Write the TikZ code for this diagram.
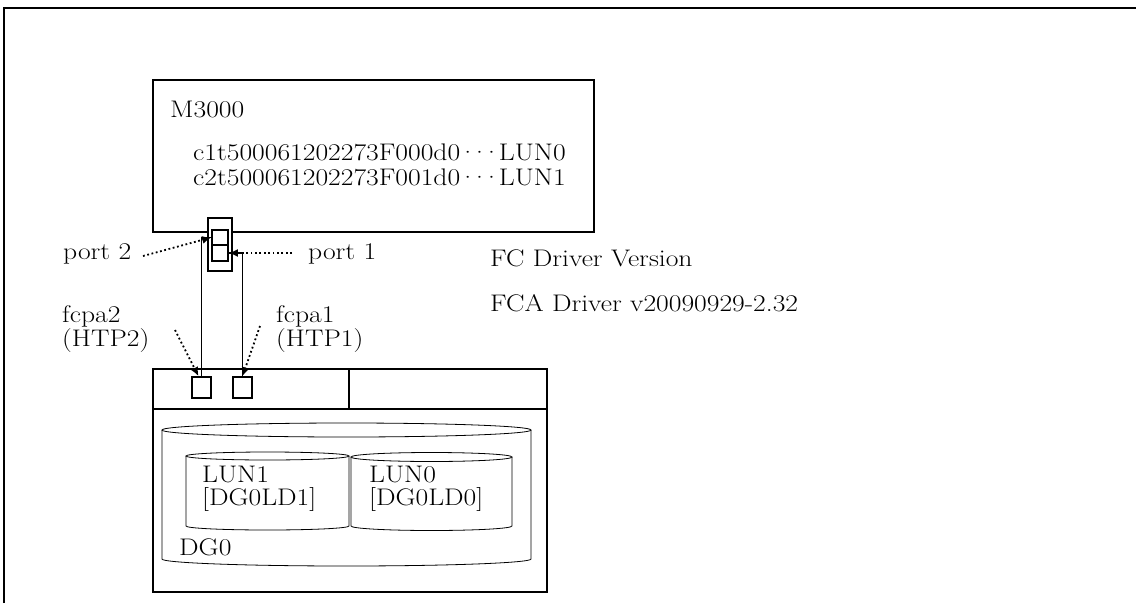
\documentclass[tikz,border=0pt]{standalone}
\usepackage{fontspec}
\setmainfont{Latin Modern Roman}[FakeStretch=1.15]
\usetikzlibrary{arrows.meta}
\newcommand{\tightdots}{\kern-2.5pt·\kern-8pt·\kern-8pt·\kern-2.5pt}
\begin{document}
\begin{tikzpicture}[x=1pt,y=-1pt,
  txt/.style={inner sep=0pt, anchor=base west, font=\fontsize{24}{25}\selectfont},
  frameline/.style={line width=1.6pt},
  thin/.style={line width=0.8pt},
  link/.style={line width=1.6pt},
  pbox/.style={draw, line width=1.6pt, inner sep=0pt},
  pointer/.style={line width=1.8pt, dash pattern=on 1.8pt off 2.6pt, -{Latex[length=9pt,width=8pt]}}
]
\useasboundingbox (0,0) rectangle (1136,603);
% outer frame (open at right and bottom)
\draw[frameline] (4,603) -- (4,8) -- (1136,8);

% M3000 box
\draw[link] (153,80) rectangle (594,232);
\node[txt] (m3000) at (170,117) {M3000};
\node[txt] (lun0map) at (193,160) {c1t500061202273F000d0\tightdots LUN0};
\node[txt] (lun1map) at (193,185) {c2t500061202273F001d0\tightdots LUN1};

% port block
\node[pbox, fill=white, minimum width=24pt, minimum height=53pt] (portframe) at (220,244.5) {};
\node[pbox, minimum width=16pt, minimum height=15pt] (p2) at (220,237.5) {};
\node[pbox, minimum width=16pt, minimum height=16pt] (p1) at (220,253) {};

% storage box
\draw[link] (153,369) rectangle (547,592);
\draw[link] (153,409) -- (547,409);
\draw[link] (349,369) -- (349,409);
\node[pbox, minimum width=19pt, minimum height=21pt] (htp2) at (201.5,387.5) {};
\node[pbox, minimum width=19pt, minimum height=21pt] (htp1) at (242.5,387.5) {};

% cables
\draw[link] (htp2.north) |- (p2.west);
\draw[link] (htp1.north) |- (p1.east);

% labels and pointers
\node[txt] (port2) at (63,259) {port 2};
\node[txt] (port1) at (308,259) {port 1};
\coordinate (d2s) at (143,256);
\coordinate (d1s) at (292,253);
\draw[pointer] (d2s) -- (p2.west);
\draw[pointer] (d1s) -- (p1.east);

\node[txt] (fcpa2) at (62,322) {fcpa2};
\node[txt] (htp2lbl) at (62,346) {(HTP2)};
\node[txt] (fcpa1) at (276,322) {fcpa1};
\node[txt] (htp1lbl) at (276,346) {(HTP1)};
\coordinate (f2s) at (175,330);
\coordinate (f1s) at (260,326);
\draw[pointer] (f2s) -- ([xshift=-3pt]htp2.north);
\draw[pointer] (f1s) -- (htp1.north);

\node[txt] (fcver) at (490,266) {FC Driver Version};
\node[txt] (fcaver) at (490,311) {FCA Driver v20090929-2.32};

% DG0 cylinder
\draw[thin] (346.5,430) ellipse [x radius=184.5pt, y radius=7pt];
\draw[thin] (162,430) -- (162,559) arc[start angle=180, end angle=360, x radius=184.5pt, y radius=7pt] -- (531,430);
% LUN1 cylinder
\draw[thin] (267.5,456) ellipse [x radius=81.5pt, y radius=4pt];
\draw[thin] (186,456) -- (186,526) arc[start angle=180, end angle=360, x radius=81.5pt, y radius=4pt] -- (349,456);
% LUN0 cylinder
\draw[thin] (431.5,457) ellipse [x radius=80.5pt, y radius=4.5pt];
\draw[thin] (351,457) -- (351,526) arc[start angle=180, end angle=360, x radius=80.5pt, y radius=4.5pt] -- (512,457);

\node[txt] (lun1) at (202,482) {LUN1};
\node[txt] (ld1) at (202,505) {[DG0LD1]};
\node[txt] (lun0) at (369,482) {LUN0};
\node[txt] (ld0) at (369,505) {[DG0LD0]};
\node[txt] (dg0) at (179,555) {DG0};
\end{tikzpicture}
\end{document}
